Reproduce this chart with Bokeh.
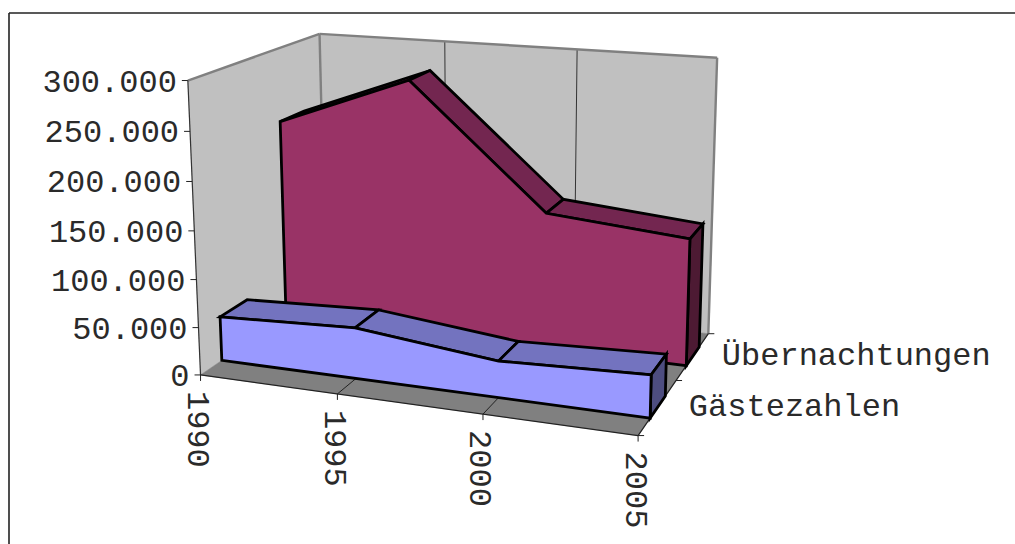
import numpy as np
from bokeh.plotting import figure
from bokeh.models import Range1d
from bokeh.core.properties import value
from bokeh.embed import file_html
from bokeh.resources import INLINE

# ---- data ----
years = [1990, 1995, 2000, 2005]
gaeste = [47000, 53000, 37500, 43000]
uebernachtungen = [220500, 275500, 146500, 134000]
series_names = ["Gästezahlen", "Übernachtungen"]
value_ticks = [0, 50000, 100000, 150000, 200000, 250000, 300000]
value_labels = ["0", "50.000", "100.000", "150.000", "200.000", "250.000", "300.000"]
year_labels = ["1990", "1995", "2000", "2005"]

VMAX = 300000.0
Y0, Y1 = years[0], years[-1]

# ---- perspective camera: calibrated projection from (year share, value share, depth share) to page pixels ----
calib = [
    ((0, 0, 0), (200, 376)), ((0, 1, 0), (188, 80)), ((1, 0, 0), (637, 434)),
    ((1, 0, 1), (707, 333)), ((1, 1, 1), (717, 57)), ((0, 1, 1), (318, 33)),
    ((0, 0, 1), (326, 288)), ((1/3, 0, 0), (336.7, 394)), ((2/3, 0, 0), (481.7, 413.3)),
    ((1, 0, .5), (677, 381)), ((1/3, 1, 1), (444, 42)), ((2/3, 1, 1), (577, 49)),
    ((0, .5, 0), (194, 229)),
]
A, b = [], []
for (u, v, w), (sx, sy) in calib:
    A.append([u, v, w, 1, 0, 0, 0, 0, -sx*u, -sx*v, -sx*w]); b.append(sx)
    A.append([0, 0, 0, 0, u, v, w, 1, -sy*u, -sy*v, -sy*w]); b.append(sy)
h = np.linalg.lstsq(np.array(A, float), np.array(b, float), rcond=None)[0]
P = np.append(h, 1.0).reshape(3, 4)


def proj3(u, v, w):
    r = P @ np.array([u, v, w, 1.0])
    return r[0] / r[2], r[1] / r[2]


def proj(year, val, depth):
    return proj3((year - Y0) / (Y1 - Y0), val / VMAX, depth)


WALL, FLOOR = "#C0C0C0", "#808080"
W, H = 1015, 544
p = figure(width=W, height=H, output_backend="svg", toolbar_location=None,
           x_range=Range1d(0, W), y_range=Range1d(H, 0),
           min_border=0, outline_line_color=None, background_fill_color="white",
           border_fill_color="white")
p.axis.visible = False
p.xgrid.visible = False
p.ygrid.visible = False


def poly(corners, fill, line=None, lw=0.0):
    pts = [proj(*c) for c in corners]
    p.patch([a[0] for a in pts], [a[1] for a in pts], fill_color=fill,
            line_color=line if line else fill, line_width=lw if line else 0.5,
            line_join="miter")


def seg(c0, c1, color, lw):
    a, b_ = proj(*c0), proj(*c1)
    p.line([a[0], b_[0]], [a[1], b_[1]], line_color=color, line_width=lw)


# chart frame (top and left only are on the page)
p.line([8.5, 8.5], [H, 12.5], line_color="#222222", line_width=1.6)
p.line([8.5, W], [12.5, 12.5], line_color="#222222", line_width=1.6)

# walls and floor
poly([(Y0, 0, 0), (Y0, VMAX, 0), (Y0, VMAX, 1), (Y0, 0, 1)], WALL)
poly([(Y0, 0, 1), (Y1, 0, 1), (Y1, VMAX, 1), (Y0, VMAX, 1)], WALL)
poly([(Y0, 0, 0), (Y1, 0, 0), (Y1, 0, 1), (Y0, 0, 1)], FLOOR)

for y in years[1:-1]:
    seg((y, 0, 1), (y, VMAX, 1), "#333333", 1)
    seg((y, 0, 0), (y, 0, 1), "#222222", 1)
seg((Y0, 0, 1), (Y0, VMAX, 1), "#808080", 2.4)
seg((Y0, VMAX, 0), (Y0, VMAX, 1), "#808080", 2.4)
seg((Y0, VMAX, 1), (Y1, VMAX, 1), "#808080", 2.4)
seg((Y1, VMAX, 1), (Y1, 0, 1), "#808080", 2.4)
seg((Y0, 0, 0), (Y0, VMAX, 0), "#333333", 1.2)
seg((Y0, 0, 0), (Y1, 0, 0), "#222222", 1.2)
seg((Y1, 0, 0), (Y1, 0, 1), "#222222", 1.2)


def area3d(vals, d0, d1, front, top, side):
    # top faces
    for i in range(len(years) - 1):
        poly([(years[i], vals[i], d0), (years[i + 1], vals[i + 1], d0),
              (years[i + 1], vals[i + 1], d1), (years[i], vals[i], d1)], top, "black", 2.8)
    # right side
    poly([(Y1, 0, d0), (Y1, vals[-1], d0), (Y1, vals[-1], d1), (Y1, 0, d1)], side, "black", 2.8)
    # front
    c = [(Y0, 0, d0)] + [(y, v, d0) for y, v in zip(years, vals)] + [(Y1, 0, d0)]
    poly(c, front, "black", 2.8)


area3d(uebernachtungen, .65, .85, "#993366", "#732650", "#4D1A33")
area3d(gaeste, .15, .35, "#9999FF", "#7373BF", "#4D4D80")

# ticks and labels
FONT = value("Liberation Mono")
FS = "32px"
TXT = "#2a2a2a"
for t, lab in zip(value_ticks, value_labels):
    x, y = proj(Y0, t, 0)
    p.line([x - 6, x], [y, y], line_color="#222222", line_width=1)
    p.text([x - 11], [y + 0.5], text=[lab], text_font=FONT, text_font_size=FS, text_color=TXT,
           text_align="right", text_baseline="middle")
for yr, lab in zip(years, year_labels):
    x, y = proj(yr, 0, 0)
    p.line([x, x], [y, y + 6], line_color="#222222", line_width=1)
    p.text([x - 2], [y + 16], text=[lab], text_font=FONT, text_font_size=FS, text_color=TXT,
           text_align="left", text_baseline="middle", angle=-np.pi / 2)
for d in [0, .5, 1]:
    x, y = proj(Y1, 0, d)
    p.line([x, x + 6], [y, y], line_color="#222222", line_width=1)
for d, name, dx in zip([.25, .75], series_names, [31, 29]):
    x, y = proj(Y1, 0, d)
    p.text([x + dx], [y + 0.5], text=[name], text_font=FONT, text_font_size=FS, text_color=TXT,
           text_align="left", text_baseline="middle")

open("out.html", "w").write(file_html(p, INLINE))
